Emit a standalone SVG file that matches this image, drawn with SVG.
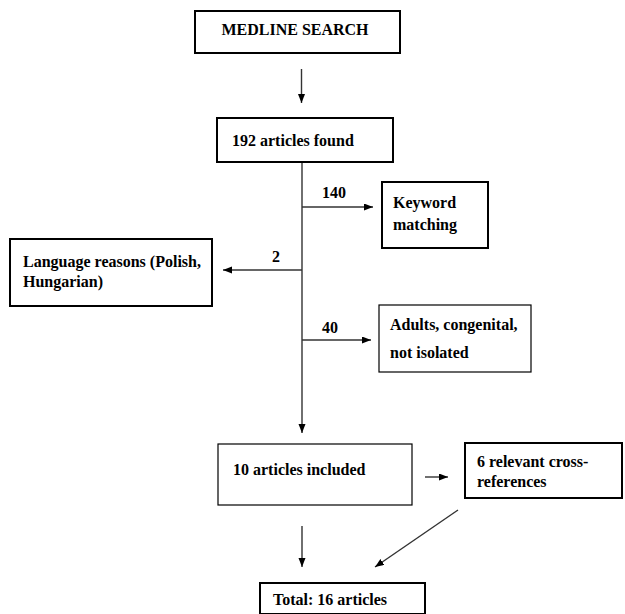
<svg xmlns="http://www.w3.org/2000/svg" width="625" height="614" viewBox="0 0 625 614">
<style>
.t{font-family:'Liberation Serif','Times New Roman',Times,'DejaVu Serif',serif;font-size:16px;font-weight:bold;fill:#000}
.b2{fill:#fff;stroke:#000;stroke-width:2}
.b1{fill:#fff;stroke:#000;stroke-width:1.2}
.c{stroke:#333;stroke-width:1.4;fill:none}
</style>
<defs>
<marker id="ah" markerUnits="userSpaceOnUse" markerWidth="10" markerHeight="8" refX="9" refY="3.5" orient="auto">
<path d="M0,0 L9,3.5 L0,7 z" fill="#000"/>
</marker>
</defs>
<rect width="625" height="614" fill="#fff"/>
<g id="connectors">
<line class="c" x1="301.5" y1="69" x2="301.5" y2="103" marker-end="url(#ah)"/>
<line class="c" x1="302" y1="162" x2="302" y2="433" marker-end="url(#ah)"/>
<line class="c" x1="302" y1="207" x2="373" y2="207" marker-end="url(#ah)"/>
<line class="c" x1="302" y1="270" x2="223" y2="270" marker-end="url(#ah)"/>
<line class="c" x1="302" y1="340" x2="371" y2="340" marker-end="url(#ah)"/>
<line class="c" x1="425" y1="477" x2="448" y2="477" marker-end="url(#ah)"/>
<line class="c" x1="302" y1="526" x2="302" y2="567" marker-end="url(#ah)"/>
<line class="c" x1="458" y1="510" x2="375" y2="567" marker-end="url(#ah)"/>
<text class="t" x="322" y="198">140</text>
<text class="t" x="272" y="262">2</text>
<text class="t" x="322" y="333">40</text>
</g>
<g id="medline">
<rect class="b2" x="195" y="11" width="205" height="42"/>
<text class="t" x="295" y="35" text-anchor="middle">MEDLINE SEARCH</text>
</g>
<g id="found">
<rect class="b2" x="217" y="118" width="176" height="44"/>
<text class="t" x="232" y="146">192 articles found</text>
</g>
<g id="keyword">
<rect class="b2" x="382" y="182" width="106" height="66"/>
<text class="t" x="393" y="208">Keyword</text>
<text class="t" x="393" y="230">matching</text>
</g>
<g id="language">
<rect class="b2" x="10" y="239" width="202" height="67"/>
<text class="t" x="23" y="267">Language reasons (Polish,</text>
<text class="t" x="23" y="287">Hungarian)</text>
</g>
<g id="adults">
<rect class="b1" x="379" y="305" width="152" height="67"/>
<text class="t" x="390" y="330">Adults, congenital,</text>
<text class="t" x="390" y="358">not isolated</text>
</g>
<g id="included">
<rect class="b1" x="218" y="444" width="194" height="61"/>
<text class="t" x="233" y="475">10 articles included</text>
</g>
<g id="crossref">
<rect class="b2" x="465" y="443" width="157" height="55"/>
<text class="t" x="477" y="467">6 relevant cross-</text>
<text class="t" x="477" y="487">references</text>
</g>
<g id="total">
<rect class="b2" x="260" y="583" width="165" height="31"/>
<text class="t" x="273" y="605">Total: 16 articles</text>
</g>
</svg>
